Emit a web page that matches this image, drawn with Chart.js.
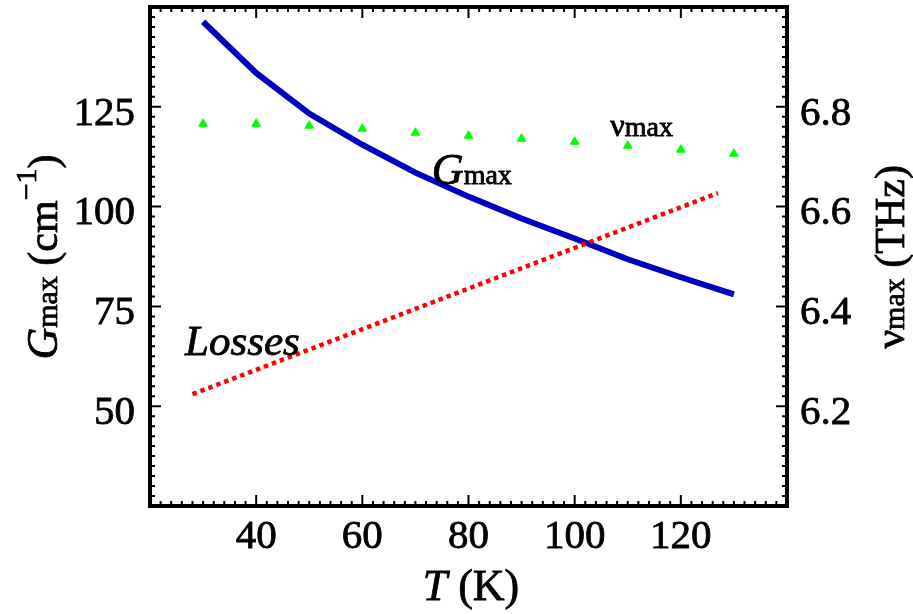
<!DOCTYPE html>
<html>
<head>
<meta charset="utf-8">
<script src="https://cdn.jsdelivr.net/npm/chart.js@4.4.1/dist/chart.umd.min.js"></script>
<style>
  body { margin: 0; background: #fff; }
  #wrap { width: 913px; height: 614px; }
</style>
</head>
<body>
<div id="wrap"><canvas id="c" width="913" height="614"></canvas></div>
<script>
// values
const temps = [30, 40, 50, 60, 70, 80, 90, 100, 110, 120, 130];
const gmax = [146.3, 133.5, 123.3, 115.5, 108.5, 102.5, 97.0, 92.0, 86.8, 82.3, 78.0];
const numax = [6.766, 6.766, 6.762, 6.756, 6.748, 6.742, 6.736, 6.730, 6.722, 6.714, 6.706];
const lossTemps = [28, 127];
const losses = [53.0, 103.4];

const xTicks = [40, 60, 80, 100, 120];
const gTicks = [50, 75, 100, 125];
const nuTicks = [6.2, 6.4, 6.6, 6.8];

const SERIF = "'Liberation Serif', 'Times New Roman', serif";

function fontStr(size, italic) {
    return (italic ? 'italic ' : '') + size + 'px ' + SERIF;
}

// draws [text, size, italic, raise] pieces one after another, optionally centred on x
function drawParts(ctx, parts, x, y, center) {
    let w = 0;
    parts.forEach(p => { ctx.font = fontStr(p[1], p[2]); w += ctx.measureText(p[0]).width; });
    let cx = center ? x - w / 2 : x;
    parts.forEach(p => {
        ctx.font = fontStr(p[1], p[2]);
        ctx.fillText(p[0], cx, y - (p[3] || 0));
        ctx.strokeText(p[0], cx, y - (p[3] || 0));
        cx += ctx.measureText(p[0]).width;
    });
}

function tickLoop(scale, step, majors, fn) {
    const n = Math.round((scale.max - scale.min) / step);
    for (let i = 0; i <= n; i++) {
        const v = scale.min + i * step;
        const major = majors.some(m => Math.abs(m - v) < 1e-6);
        fn(scale.getPixelForValue(v), major);
    }
}

const framePlugin = {
    id: 'frame',
    afterDatasetsDraw(chart) {
        const { ctx, chartArea: a, scales } = chart;
        ctx.save();
        ctx.strokeStyle = '#000';
        ctx.lineWidth = 2;
        ctx.beginPath();
        tickLoop(scales.x, 2, xTicks, (px, major) => {
            const len = major ? 11 : 5;
            ctx.moveTo(px, a.bottom); ctx.lineTo(px, a.bottom - len);
            ctx.moveTo(px, a.top); ctx.lineTo(px, a.top + len);
        });
        tickLoop(scales.y, 2.5, gTicks, (py, major) => {
            const len = major ? 11 : 5;
            ctx.moveTo(a.left, py); ctx.lineTo(a.left + len, py);
        });
        tickLoop(scales.y2, 0.02, nuTicks, (py, major) => {
            const len = major ? 11 : 5;
            ctx.moveTo(a.right, py); ctx.lineTo(a.right - len, py);
        });
        ctx.stroke();
        ctx.lineWidth = 4;
        ctx.strokeRect(a.left, a.top, a.right - a.left, a.bottom - a.top);
        ctx.restore();
    },
    afterDraw(chart) {
        const { ctx, scales } = chart;
        const x = scales.x, y = scales.y;
        ctx.save();
        ctx.fillStyle = '#000';
        ctx.strokeStyle = '#000';
        ctx.lineWidth = 0.8;
        ctx.textBaseline = 'alphabetic';
        ctx.textAlign = 'left';

        // in-plot labels
        drawParts(ctx, [['G', 44, true], ['max', 28, false]],
            x.getPixelForValue(73.1), y.getPixelForValue(105.75), false);
        drawParts(ctx, [['\u03bd', 32, false], ['max', 28, false]],
            x.getPixelForValue(106.7), y.getPixelForValue(117.75), false);
        drawParts(ctx, [['Losses', 43, true]],
            x.getPixelForValue(26.6), y.getPixelForValue(62.75), false);

        // axis titles
        drawParts(ctx, [['T', 44, true], [' (K)', 44, false]], 471, 600, true);

        ctx.save();
        ctx.translate(57, 257);
        ctx.rotate(-Math.PI / 2);
        drawParts(ctx, [['G', 44, true], ['max', 30, false], [' (cm', 42, false],
            ['\u22121', 30, false, 21], [')', 42, false]], 0, 0, true);
        ctx.restore();

        ctx.save();
        ctx.translate(904, 257);
        ctx.rotate(-Math.PI / 2);
        drawParts(ctx, [['\u03bd', 42, false], ['max', 30, false], [' (THz)', 42, false]], 0, 0, true);
        ctx.restore();

        ctx.restore();
    },
};

const tickFont = { family: SERIF, size: 41 };

function fixedTicks(list) {
    return scale => { scale.ticks = list.map(v => ({ value: v })); };
}

new Chart(document.getElementById('c'), {
    type: 'line',
    data: {
        datasets: [
            {
                label: 'Losses',
                data: lossTemps.map((t, i) => ({ x: t, y: losses[i] })),
                yAxisID: 'y',
                borderColor: '#ff0000',
                borderWidth: 4.5,
                borderDash: [4.5, 4],
                borderCapStyle: 'butt',
                pointRadius: 0,
                tension: 0,
            },
            {
                label: 'Gmax',
                data: temps.map((t, i) => ({ x: t, y: gmax[i] })),
                yAxisID: 'y',
                borderColor: 'rgb(0, 0, 192)',
                borderWidth: 6,
                pointRadius: 0,
                tension: 0,
            },
            {
                label: 'numax',
                data: temps.map((t, i) => ({ x: t, y: numax[i] })),
                yAxisID: 'y2',
                showLine: false,
                pointStyle: 'triangle',
                pointRadius: 5,
                backgroundColor: '#00ff00',
                borderColor: '#00ff00',
                borderWidth: 1,
            },
        ],
    },
    options: {
        responsive: false,
        animation: false,
        layout: { padding: { top: 7, left: 0, right: 0, bottom: 0 } },
        scales: {
            x: {
                type: 'linear',
                min: 20,
                max: 140,
                afterBuildTicks: fixedTicks(xTicks),
                afterFit: s => { s.height = 108; s.paddingLeft = 0; s.paddingRight = 0; },
                grid: { display: false, drawTicks: false },
                border: { display: false },
                ticks: {
                    font: tickFont, color: '#000', padding: 7, maxRotation: 0, autoSkip: false,
                    textStrokeColor: '#000', textStrokeWidth: 0.8,
                },
            },
            y: {
                type: 'linear',
                position: 'left',
                min: 25,
                max: 150,
                afterBuildTicks: fixedTicks(gTicks),
                afterFit: s => { s.width = 150; s.paddingTop = 0; s.paddingBottom = 0; },
                grid: { display: false, drawTicks: false },
                border: { display: false },
                ticks: {
                    font: tickFont, color: '#000', padding: 15, labelOffset: 7,
                    textStrokeColor: '#000', textStrokeWidth: 0.8,
                },
            },
            y2: {
                type: 'linear',
                position: 'right',
                min: 6.0,
                max: 7.0,
                afterBuildTicks: fixedTicks(nuTicks),
                afterFit: s => { s.width = 126; s.paddingTop = 0; s.paddingBottom = 0; },
                grid: { display: false, drawTicks: false },
                border: { display: false },
                ticks: {
                    font: tickFont, color: '#000', padding: 13, labelOffset: 7,
                    textStrokeColor: '#000', textStrokeWidth: 0.8,
                    callback: v => v.toFixed(1),
                },
            },
        },
        plugins: {
            legend: { display: false },
            tooltip: { enabled: false },
        },
    },
    plugins: [framePlugin],
});
</script>
</body>
</html>
